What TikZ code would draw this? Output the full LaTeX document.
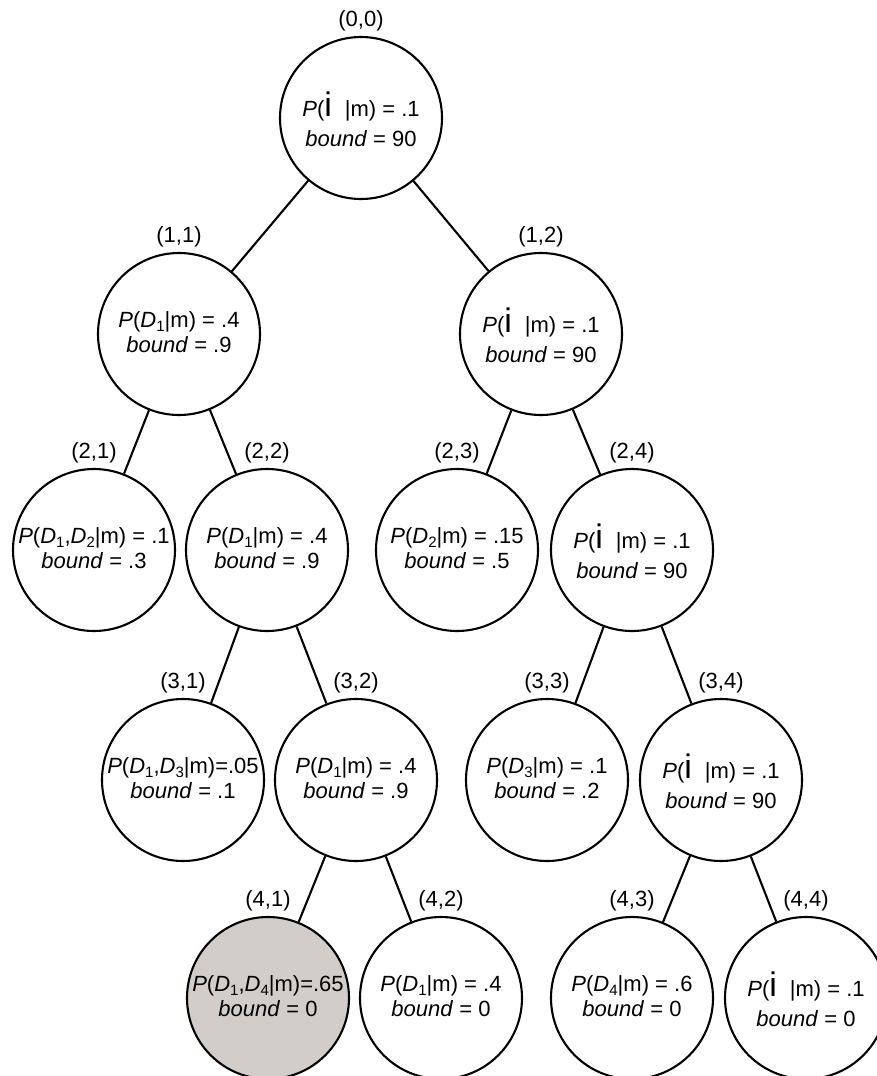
\documentclass[tikz,border=0pt]{standalone}
\usepackage{fontspec}
\setmainfont{Liberation Sans}
\newcommand\Pp{\textit{P}}
\newcommand\Dd[1]{\textit{D}\raisebox{-4.5pt}{\fontsize{15}{15}\selectfont #1}}
\newcommand\bigi{{\fontsize{34}{34}\selectfont i}\hspace{13pt}}
\newcommand\bnd{\textit{bound}}
\definecolor{shadefill}{RGB}{211,205,202}
\tikzset{
  circ/.style={circle, draw, line width=2.1pt, minimum size=162pt, inner sep=0pt, fill=white},
  txt/.style={align=center, inner sep=0pt, font=\fontsize{22}{25}\selectfont},
  lbl/.style={font=\fontsize{22}{25}\selectfont, inner sep=0pt},
  edge/.style={line width=2.1pt},
}
\begin{document}
\begin{tikzpicture}[x=1pt,y=-1pt]
\useasboundingbox (0,0) rectangle (877,1076);
\clip (0,0) rectangle (877,1076);
% circles
\node[circ, label={[lbl,label distance=5pt]above:{(0,0)}}] (n00) at (361,118) {};
\node[circ, label={[lbl,label distance=5pt]above:{(1,1)}}] (n11) at (179,334) {};
\node[circ, label={[lbl,label distance=5pt]above:{(1,2)}}] (n12) at (541,334) {};
\node[circ, label={[lbl,label distance=5pt]above:{(2,1)}}] (n21) at (94,550) {};
\node[circ, label={[lbl,label distance=5pt]above:{(2,2)}}] (n22) at (267,550) {};
\node[circ, label={[lbl,label distance=5pt]above:{(2,3)}}] (n23) at (457,550) {};
\node[circ, label={[lbl,label distance=5pt]above:{(2,4)}}] (n24) at (632,550) {};
\node[circ, label={[lbl,label distance=5pt]above:{(3,1)}}] (n31) at (183,780) {};
\node[circ, label={[lbl,label distance=5pt]above:{(3,2)}}] (n32) at (356,780) {};
\node[circ, label={[lbl,label distance=5pt]above:{(3,3)}}] (n33) at (547,780) {};
\node[circ, label={[lbl,label distance=5pt]above:{(3,4)}}] (n34) at (721,780) {};
\node[circ, fill=shadefill, label={[lbl,label distance=5pt]above:{(4,1)}}] (n41) at (268,998) {};
\node[circ, label={[lbl,label distance=5pt]above:{(4,2)}}] (n42) at (441,998) {};
\node[circ, label={[lbl,label distance=5pt]above:{(4,3)}}] (n43) at (632,998) {};
\node[circ, label={[lbl,label distance=5pt]above:{(4,4)}}] (n44) at (806,998) {};
% edges
\draw[edge] (n00) -- (n11);
\draw[edge] (n00) -- (n12);
\draw[edge] (n11) -- (n21);
\draw[edge] (n11) -- (n22);
\draw[edge] (n12) -- (n23);
\draw[edge] (n12) -- (n24);
\draw[edge] (n22) -- (n31);
\draw[edge] (n22) -- (n32);
\draw[edge] (n24) -- (n33);
\draw[edge] (n24) -- (n34);
\draw[edge] (n32) -- (n41);
\draw[edge] (n32) -- (n42);
\draw[edge] (n34) -- (n43);
\draw[edge] (n34) -- (n44);
% texts
\node[txt] (t00) at ([yshift=-1pt]n00.center) {\Pp(\bigi|m) = .1\\[5pt]\bnd{} = 90};
\node[txt] (t11) at ([yshift=2pt]n11.center) {\Pp(\Dd{1}|m) = .4\\\bnd{} = .9};
\node[txt] (t12) at ([yshift=-1pt]n12.center) {\Pp(\bigi|m) = .1\\[5pt]\bnd{} = 90};
\node[txt] (t21) at ([yshift=2pt]n21.center) {\Pp(\Dd{1},\Dd{2}|m) = .1\\\bnd{} = .3};
\node[txt] (t22) at ([yshift=2pt]n22.center) {\Pp(\Dd{1}|m) = .4\\\bnd{} = .9};
\node[txt] (t23) at ([yshift=2pt]n23.center) {\Pp(\Dd{2}|m) = .15\\\bnd{} = .5};
\node[txt] (t24) at ([yshift=-1pt]n24.center) {\Pp(\bigi|m) = .1\\[5pt]\bnd{} = 90};
\node[txt] (t31) at ([yshift=2pt]n31.center) {\Pp(\Dd{1},\Dd{3}|m)=.05\\\bnd{} = .1};
\node[txt] (t32) at ([yshift=2pt]n32.center) {\Pp(\Dd{1}|m) = .4\\\bnd{} = .9};
\node[txt] (t33) at ([yshift=2pt]n33.center) {\Pp(\Dd{3}|m) = .1\\\bnd{} = .2};
\node[txt] (t34) at ([yshift=-1pt]n34.center) {\Pp(\bigi|m) = .1\\[5pt]\bnd{} = 90};
\node[txt] (t41) at ([yshift=2pt]n41.center) {\Pp(\Dd{1},\Dd{4}|m)=.65\\\bnd{} = 0};
\node[txt] (t42) at ([yshift=2pt]n42.center) {\Pp(\Dd{1}|m) = .4\\\bnd{} = 0};
\node[txt] (t43) at ([yshift=2pt]n43.center) {\Pp(\Dd{4}|m) = .6\\\bnd{} = 0};
\node[txt] (t44) at ([yshift=-1pt]n44.center) {\Pp(\bigi|m) = .1\\[5pt]\bnd{} = 0};
\end{tikzpicture}
\end{document}
